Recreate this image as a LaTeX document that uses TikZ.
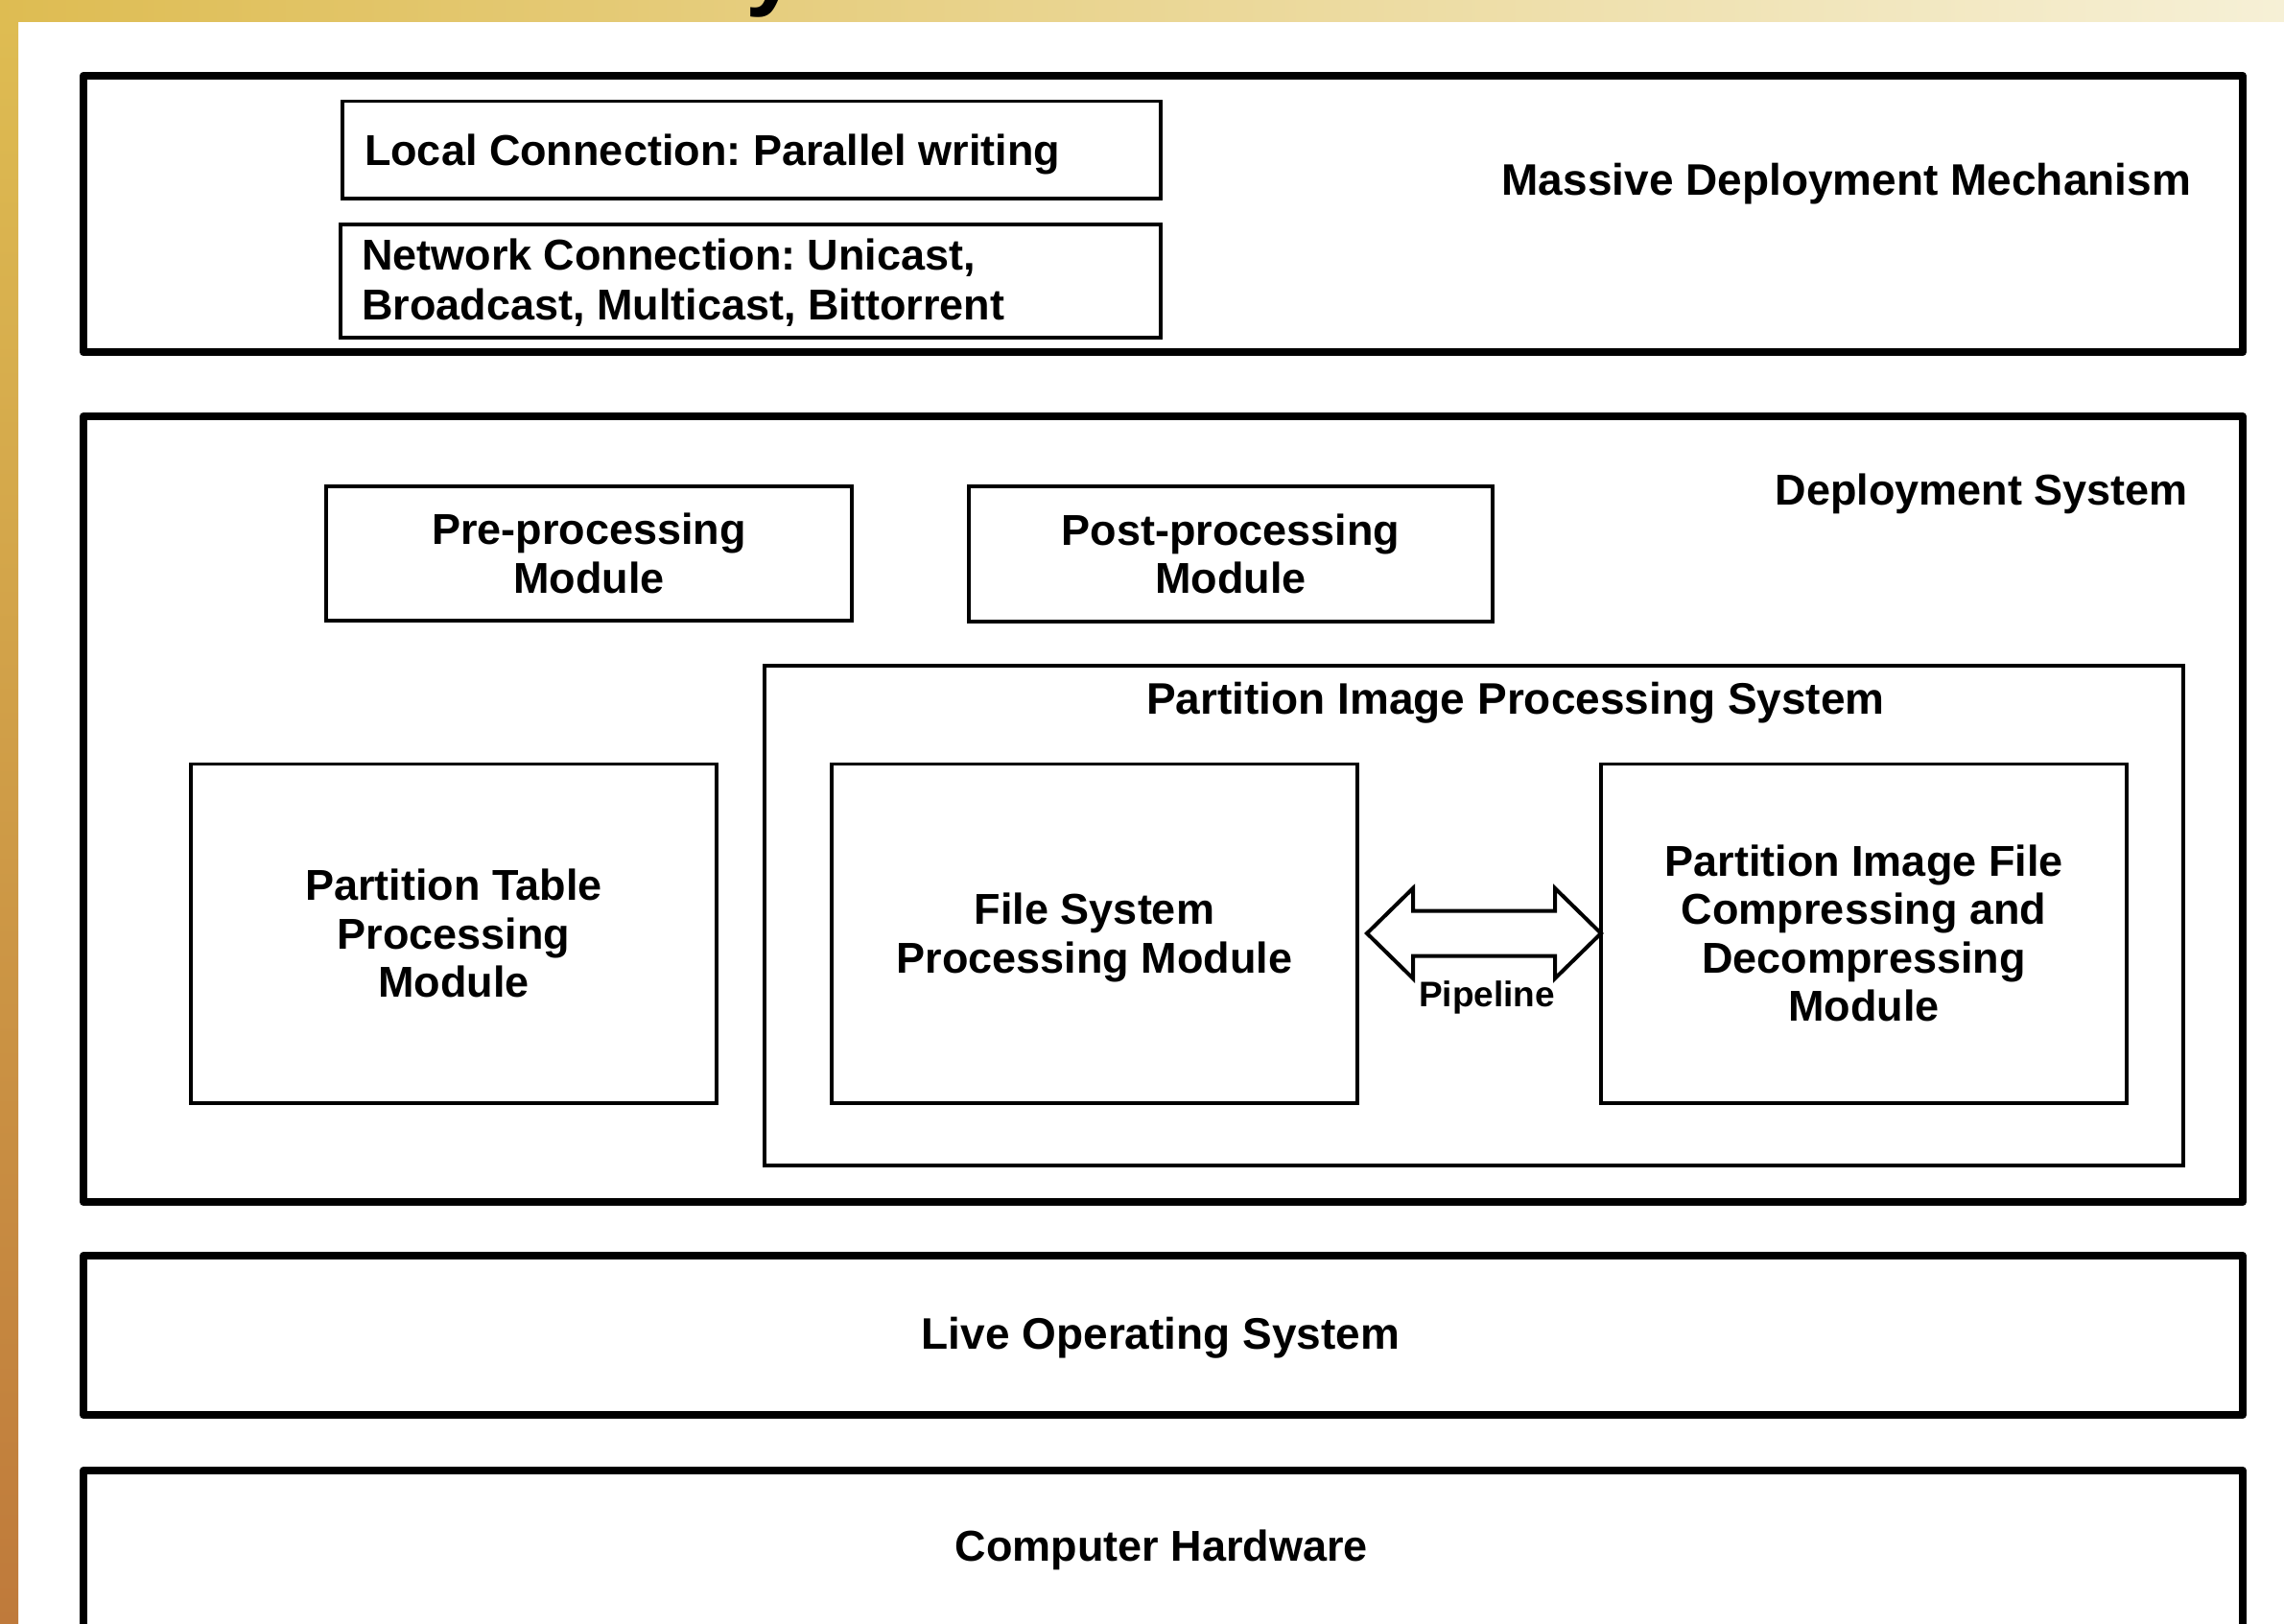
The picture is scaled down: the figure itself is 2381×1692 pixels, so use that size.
\documentclass[tikz,border=0pt]{standalone}
\usepackage{fontspec}
\setmainfont{Liberation Sans}
\usetikzlibrary{calc}
\frenchspacing

\definecolor{goldA}{HTML}{DEBC52}
\definecolor{goldB}{HTML}{ECD985}
\definecolor{goldC}{HTML}{F6F0D6}
\definecolor{goldD}{HTML}{BF7A3B}

\tikzset{
  layer/.style={draw=black, line width=8pt, line join=round, fill=white,
    rectangle, inner sep=0pt, outer sep=0pt},
  module/.style={draw=black, line width=3.5pt, fill=white,
    rectangle, inner sep=0pt, outer sep=0pt, align=center},
  txt/.style={font=\fontsize{45}{50.5}\selectfont\bfseries, inner sep=0pt, outer sep=0pt},
  bigtxt/.style={txt, font=\fontsize{46}{50.5}\selectfont\bfseries},
  pipe/.style={draw=black, line width=4pt, line join=miter, fill=white},
}

\begin{document}
\begin{tikzpicture}[x=1pt, y=-1pt]
  \useasboundingbox (0,0) rectangle (2381,1692);
  \fill[white] (0,0) rectangle (2381,1692);

  % slide frame: gradient bar on top, gradient strip on the left
  \shade[left color=goldA, middle color=goldB, right color=goldC] (0,0) rectangle (2381,22);
  \shade[top color=goldA, bottom color=goldD] (0,22) rectangle (19,1692);
  \begin{scope}
    \clip (0,0) rectangle (2381,22);
    \node[font=\fontsize{100}{100}\selectfont\bfseries, anchor=base, inner sep=0pt] (ttl) at (805,-3) {y};
  \end{scope}

  % top layer
  \node[layer, minimum width=2251pt, minimum height=288.5pt] (mdm) at (1212.5,223) {};
  \node[bigtxt, anchor=base east] (mdmlbl) at (2284,203) {Massive Deployment Mechanism};
  \node[module, minimum width=853pt, minimum height=101.5pt] (lc) at (783.5,156) {};
  \node[txt, anchor=base west] (lctxt) at (380,172) {Local Connection: Parallel writing};
  \node[module, minimum width=855pt, minimum height=118pt] (nc) at (782.5,293) {};
  \node[txt, font=\fontsize{45}{52}\selectfont\bfseries, anchor=west, align=left] (nctxt) at (377,294.5) {Network Connection: Unicast,\\Broadcast, Multicast, Bittorrent};

  % deployment system
  \node[layer, minimum width=2251pt, minimum height=819pt] (ds) at (1212.5,843.5) {};
  \node[txt, anchor=base east] (dslbl) at (2281,526) {Deployment System};
  \node[module, txt, minimum width=548pt, minimum height=140pt, align=center, draw, line width=3.5pt] (pre) at (614,577) {Pre-processing\\Module};
  \node[module, txt, minimum width=546pt, minimum height=141pt, align=center, draw, line width=3.5pt] (post) at (1283,577.5) {Post-processing\\Module};
  \node[module, minimum width=1479pt, minimum height=521pt] (pips) at (1536.5,954.5) {};
  \node[bigtxt, anchor=base] (pipslbl) at (1580,744) {Partition Image Processing System};
  \node[module, txt, minimum width=548pt, minimum height=353.5pt, align=center, draw, line width=3.5pt] (pt) at (473,973) {Partition Table\\Processing\\Module};
  \node[module, minimum width=548pt, minimum height=353.5pt] (fs) at (1141,973) {};
  \node[txt, align=center] (fstxt) at (1141,977.5) {File System\\Processing Module};
  \node[module, txt, minimum width=548pt, minimum height=353.5pt, align=center, draw, line width=3.5pt] (pic) at (1943,973) {Partition Image File\\Compressing and\\Decompressing\\Module};

  % pipeline double arrow between the two modules
  \path let \p1 = ($(fs.east)+(10,0)$), \p2 = (pic.west) in
    coordinate (al) at (\x1,\y1) coordinate (ar) at (\x2,\y2);
  \draw[pipe] let \p1 = (al), \p2 = (ar) in
    (\x1,\y1) -- (\x1+48pt,\y1+47pt) -- (\x1+48pt,\y1+23.5pt)
    -- (\x2-48pt,\y1+23.5pt) -- (\x2-48pt,\y1+47pt) -- (\x2,\y1)
    -- (\x2-48pt,\y1-47pt) -- (\x2-48pt,\y1-23.5pt)
    -- (\x1+48pt,\y1-23.5pt) -- (\x1+48pt,\y1-47pt) -- cycle;
  \node[font=\fontsize{37}{40}\selectfont\bfseries, inner sep=0pt, anchor=base] (pipelbl) at (1550,1049) {Pipeline};

  % lower layers
  \node[layer, minimum width=2251pt, minimum height=166pt] (live) at (1212.5,1392) {};
  \node[bigtxt] (livetxt) at (1210,1395) {Live Operating System};
  \node[layer, minimum width=2251pt, minimum height=172pt] (hw) at (1212.5,1619) {};
  \node[txt] (hwtxt) at (1211,1616) {Computer Hardware};
\end{tikzpicture}
\end{document}
